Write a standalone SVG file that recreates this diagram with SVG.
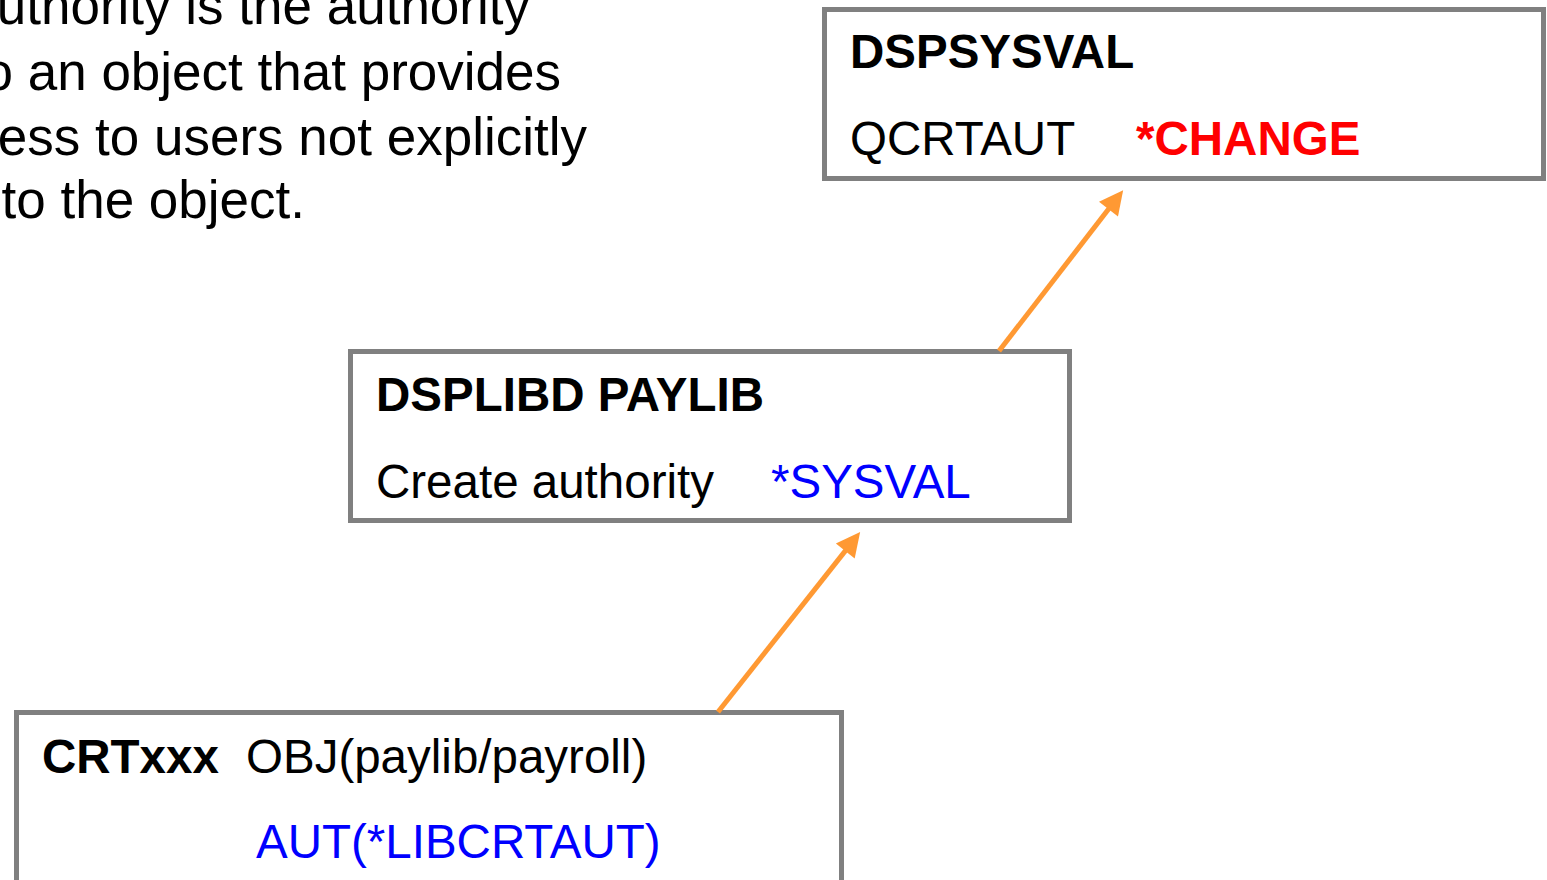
<svg xmlns="http://www.w3.org/2000/svg" width="1547" height="880" viewBox="0 0 1547 880">
<style>
  .box{fill:#fff;stroke:#808080;stroke-width:5}
  .t{font-family:"Liberation Sans",Arial,Helvetica,sans-serif;font-size:47.5px;fill:#000}
  .b{font-weight:bold}
  .red{fill:#ff0000}
  .blue{fill:#0000ff}
  .note{font-family:"Liberation Sans",Arial,Helvetica,sans-serif;font-size:53px;fill:#000}
  .conn{stroke:#ff9933;stroke-width:5;fill:none}
</style>
<defs>
  <marker id="ah" viewBox="0 0 10 10" refX="5.6" refY="5" markerWidth="28" markerHeight="24" markerUnits="userSpaceOnUse" orient="auto">
    <path d="M0,0 L10,5 L0,10 z" fill="#ff9933"/>
  </marker>
</defs>
<rect width="1547" height="880" fill="#fff"/>
<g id="note">
  <text class="note" x="530" y="24" text-anchor="end">uthority is the authority</text>
  <text class="note" x="561" y="90" text-anchor="end">o an object that provides</text>
  <text class="note" x="587" y="155" text-anchor="end">ess to users not explicitly</text>
  <text class="note" x="305" y="218" text-anchor="end">to the object.</text>
</g>
<g id="dspsysval">
  <rect class="box" x="824.5" y="9.5" width="719" height="169"/>
  <text class="t b" x="850" y="68">DSPSYSVAL</text>
  <text class="t" x="850" y="155">QCRTAUT</text>
  <text class="t b red" x="1136" y="155">*CHANGE</text>
</g>
<g id="dsplibd">
  <rect class="box" x="350.5" y="351.5" width="719" height="169"/>
  <text class="t b" x="376" y="411">DSPLIBD PAYLIB</text>
  <text class="t" x="376" y="498">Create authority</text>
  <text class="t blue" x="771" y="498">*SYSVAL</text>
</g>
<g id="crtxxx">
  <rect class="box" x="16.5" y="712.5" width="825" height="200"/>
  <text class="t b" x="42" y="773">CRTxxx</text>
  <text class="t" x="246" y="773">OBJ(paylib/payroll)</text>
  <text class="t blue" x="256" y="858">AUT(*LIBCRTAUT)</text>
</g>
<g id="connectors">
  <line class="conn" x1="999" y1="351" x2="1116.7" y2="198.5" marker-end="url(#ah)"/>
  <line class="conn" x1="718" y1="712" x2="853.6" y2="540.4" marker-end="url(#ah)"/>
</g>
</svg>
